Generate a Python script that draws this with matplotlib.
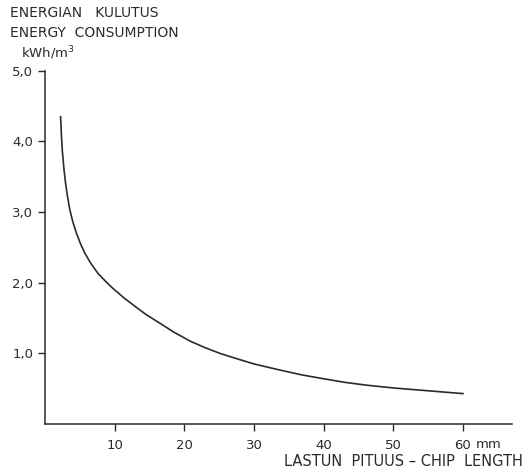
import matplotlib.pyplot as plt

# chip length (mm) vs energy consumption (kWh/m3)
chip_len = [2.24, 2.35, 2.48, 2.7, 2.95, 3.25, 3.57, 4.0, 4.52, 5.1, 5.71,
            6.6, 7.62, 8.5, 9.52, 11.4, 13.0, 14.5, 16.6, 18.5, 20.9, 23.0,
            25.1, 27.0, 30.0, 33.0, 36.6, 40.0, 43.0, 46.1, 50.0, 55.0, 60.0]
energy = [4.35, 4.10, 3.88, 3.63, 3.41, 3.21, 3.03, 2.86, 2.70, 2.55, 2.42,
          2.27, 2.13, 2.04, 1.94, 1.78, 1.66, 1.55, 1.42, 1.30, 1.17, 1.08,
          1.00, 0.94, 0.85, 0.78, 0.70, 0.64, 0.59, 0.55, 0.51, 0.47, 0.43]

xticks = [10, 20, 30, 40, 50, 60]
yticks = [1, 2, 3, 4, 5]
ylabels = ["1,0", "2,0", "3,0", "4,0", "5,0"]

ink = "#2b2b2b"
plt.rcParams['font.family'] = ['DejaVu Sans']

fig = plt.figure(figsize=(5.25, 4.69), dpi=100)
ax = fig.add_axes([0.0857, 0.096, 0.889, 0.753])
ax.plot(chip_len, energy, color=ink, lw=1.2)

ax.set_xlim(0, 67)
ax.set_ylim(0, 5)
ax.set_xticks(xticks)
ax.set_xticklabels([str(t) for t in xticks])
ax.set_yticks(yticks)
ax.set_yticklabels(ylabels)
ax.tick_params(colors=ink, labelsize=9.5, length=5, width=1, direction='out')
ax.tick_params(axis='x', pad=6)
for s in ['top', 'right']:
    ax.spines[s].set_visible(False)
for s in ['left', 'bottom']:
    ax.spines[s].set_color(ink)
    ax.spines[s].set_linewidth(1.1)

fig.text(0.02, 0.987, "ENERGIAN   KULUTUS", color=ink, fontsize=10, va='top')
fig.text(0.02, 0.945, "ENERGY  CONSUMPTION", color=ink, fontsize=10, va='top')
fig.text(0.04, 0.905, "kWh/m$^3$", color=ink, fontsize=9.5, va='top')
fig.text(0.906, 0.053, "mm", color=ink, fontsize=9.5, va='center')
fig.text(0.996, 0.015, "LASTUN  PITUUS – CHIP  LENGTH", color=ink,
         fontsize=10.5, ha='right', va='center')

fig.savefig("out.png", dpi=100)
